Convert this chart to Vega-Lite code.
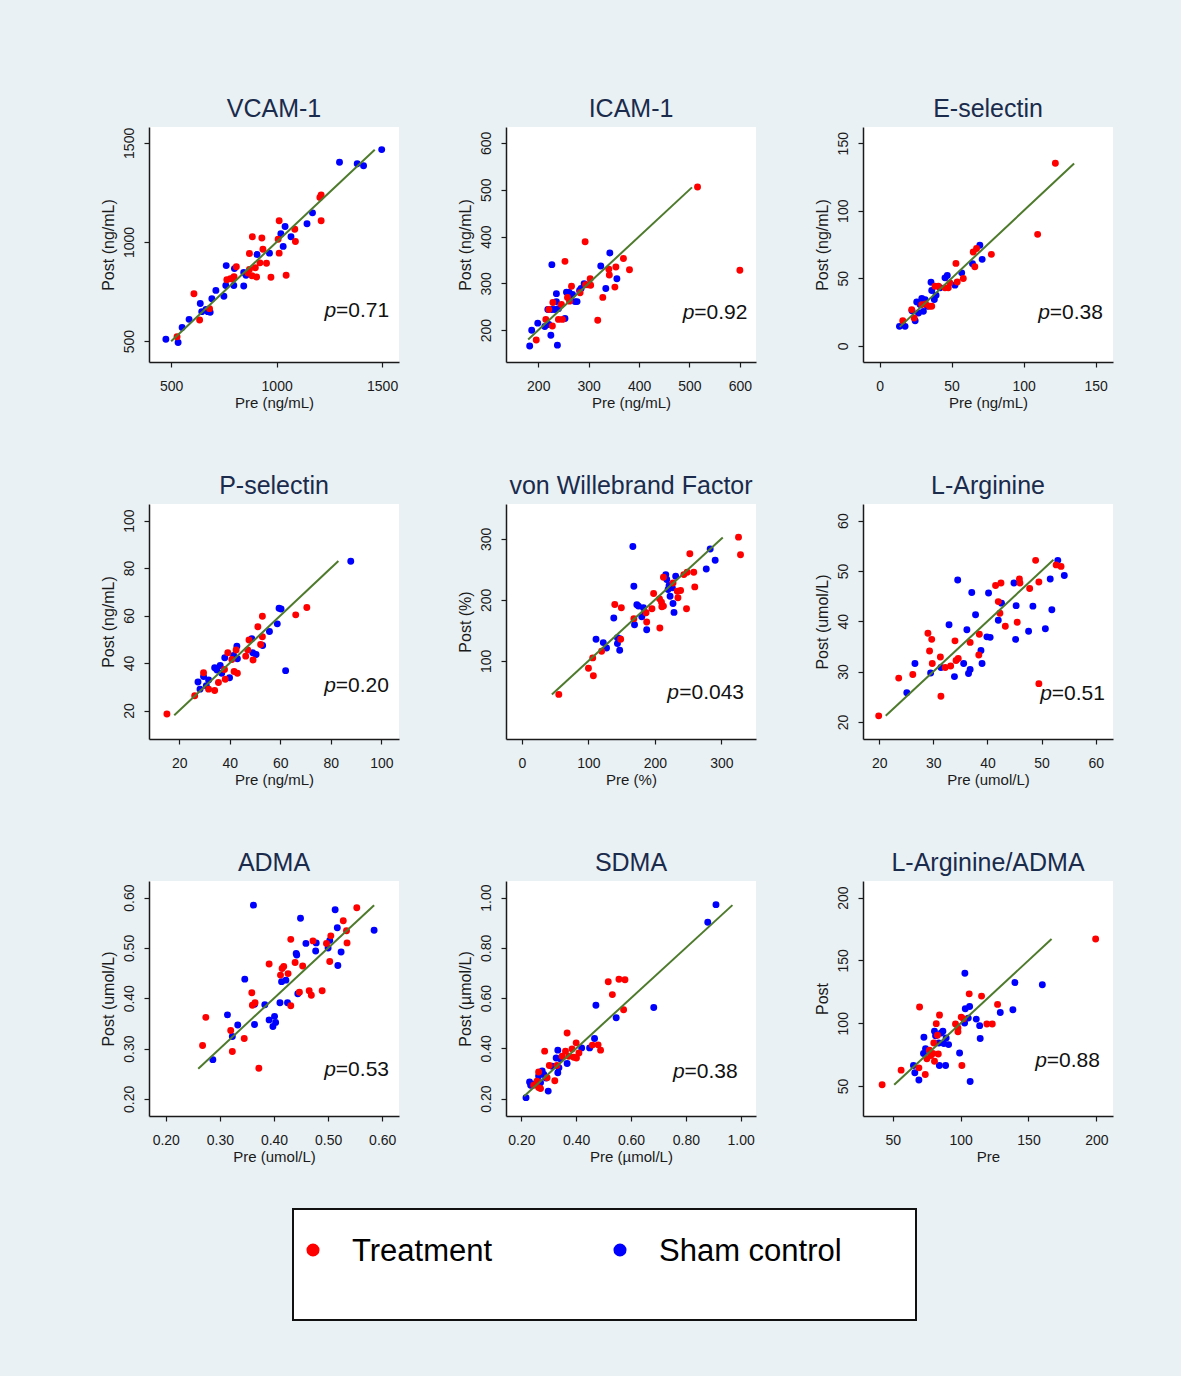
{
"$schema":"https://vega.github.io/schema/vega-lite/v6.json",
"background":"#e9f1f4",
"padding":{"left":100,"top":97,"right":68,"bottom":55},
"datasets":{
"vcam":[
{"g":"S","pre":475,"post":510},{"g":"S","pre":533,"post":493},{"g":"S","pre":552,"post":569},{"g":"S","pre":585,"post":610},{"g":"S","pre":638,"post":690},{"g":"S","pre":645,"post":649},{"g":"S","pre":674,"post":649},{"g":"S","pre":685,"post":646},{"g":"S","pre":693,"post":714},{"g":"S","pre":712,"post":756},{"g":"S","pre":750,"post":727},{"g":"S","pre":759,"post":781},{"g":"S","pre":761,"post":881},{"g":"S","pre":800,"post":866},{"g":"S","pre":797,"post":781},{"g":"S","pre":844,"post":778},{"g":"S","pre":844,"post":846},{"g":"S","pre":855,"post":832},{"g":"S","pre":907,"post":937},{"g":"S","pre":966,"post":944},{"g":"S","pre":1020,"post":1042},{"g":"S","pre":1040,"post":1078},{"g":"S","pre":1031,"post":978},{"g":"S","pre":1068,"post":1027},{"g":"S","pre":1144,"post":1092},{"g":"S","pre":1170,"post":1147},{"g":"S","pre":1298,"post":1402},{"g":"S","pre":1382,"post":1395},{"g":"S","pre":1412,"post":1385},{"g":"S","pre":1498,"post":1466},{"g":"S","pre":665,"post":660},
{"g":"T","pre":528,"post":522},{"g":"T","pre":608,"post":739},{"g":"T","pre":635,"post":607},{"g":"T","pre":682,"post":664},{"g":"T","pre":764,"post":810},{"g":"T","pre":781,"post":815},{"g":"T","pre":809,"post":875},{"g":"T","pre":798,"post":825},{"g":"T","pre":871,"post":942},{"g":"T","pre":885,"post":1027},{"g":"T","pre":930,"post":1020},{"g":"T","pre":935,"post":964},{"g":"T","pre":864,"post":844},{"g":"T","pre":883,"post":830},{"g":"T","pre":905,"post":824},{"g":"T","pre":899,"post":870},{"g":"T","pre":921,"post":895},{"g":"T","pre":952,"post":893},{"g":"T","pre":973,"post":822},{"g":"T","pre":1007,"post":1014},{"g":"T","pre":1012,"post":944},{"g":"T","pre":1012,"post":1107},{"g":"T","pre":1045,"post":832},{"g":"T","pre":1086,"post":1064},{"g":"T","pre":1089,"post":1003},{"g":"T","pre":1205,"post":1225},{"g":"T","pre":1211,"post":1237},{"g":"T","pre":1211,"post":1107},{"g":"T","pre":871,"post":861},{"g":"T","pre":790,"post":815}
],
"icam":[
{"g":"S","pre":183,"post":166},{"g":"S","pre":187,"post":200},{"g":"S","pre":199,"post":215},{"g":"S","pre":225,"post":189},{"g":"S","pre":227,"post":340},{"g":"S","pre":227,"post":244},{"g":"S","pre":233,"post":244},{"g":"S","pre":236,"post":278},{"g":"S","pre":236,"post":261},{"g":"S","pre":238,"post":168},{"g":"S","pre":253,"post":225},{"g":"S","pre":256,"post":281},{"g":"S","pre":261,"post":281},{"g":"S","pre":264,"post":271},{"g":"S","pre":273,"post":261},{"g":"S","pre":277,"post":261},{"g":"S","pre":282,"post":285},{"g":"S","pre":285,"post":289},{"g":"S","pre":291,"post":299},{"g":"S","pre":324,"post":337},{"g":"S","pre":334,"post":289},{"g":"S","pre":342,"post":365},{"g":"S","pre":356,"post":310},{"g":"S","pre":219,"post":244},{"g":"S","pre":221,"post":212},{"g":"S","pre":213,"post":208},{"g":"S","pre":240,"post":246},{"g":"S","pre":268,"post":276},
{"g":"T","pre":196,"post":179},{"g":"T","pre":215,"post":223},{"g":"T","pre":221,"post":244},{"g":"T","pre":228,"post":209},{"g":"T","pre":229,"post":259},{"g":"T","pre":240,"post":223},{"g":"T","pre":246,"post":255},{"g":"T","pre":248,"post":223},{"g":"T","pre":253,"post":347},{"g":"T","pre":262,"post":262},{"g":"T","pre":266,"post":294},{"g":"T","pre":293,"post":389},{"g":"T","pre":299,"post":297},{"g":"T","pre":303,"post":310},{"g":"T","pre":294,"post":297},{"g":"T","pre":304,"post":296},{"g":"T","pre":318,"post":221},{"g":"T","pre":328,"post":270},{"g":"T","pre":340,"post":330},{"g":"T","pre":341,"post":318},{"g":"T","pre":352,"post":292},{"g":"T","pre":354,"post":335},{"g":"T","pre":369,"post":353},{"g":"T","pre":381,"post":329},{"g":"T","pre":516,"post":506},{"g":"T","pre":600,"post":328},{"g":"T","pre":258,"post":270},{"g":"T","pre":283,"post":280}
],
"esel":[
{"g":"S","pre":13.8,"post":14.4},{"g":"S","pre":17.7,"post":14.4},{"g":"S","pre":24.7,"post":18.6},{"g":"S","pre":25.8,"post":32.5},{"g":"S","pre":27,"post":24.3},{"g":"S","pre":29.3,"post":35},{"g":"S","pre":30.4,"post":25.5},{"g":"S","pre":33.2,"post":29.3},{"g":"S","pre":36.2,"post":40.9},{"g":"S","pre":35.7,"post":47.1},{"g":"S","pre":38,"post":34.2},{"g":"S","pre":39.2,"post":37.4},{"g":"S","pre":45.4,"post":50.3},{"g":"S","pre":47,"post":52},{"g":"S","pre":52.3,"post":44.9},{"g":"S","pre":57,"post":54},{"g":"S","pre":64.5,"post":60.7},{"g":"S","pre":69.6,"post":74.4},{"g":"S","pre":71.2,"post":64},{"g":"S","pre":28.1,"post":30.5},{"g":"S","pre":31.6,"post":34.2},{"g":"S","pre":22.5,"post":26},{"g":"S","pre":42,"post":43},
{"g":"T","pre":16.1,"post":18.6},{"g":"T","pre":22.3,"post":26.8},{"g":"T","pre":24,"post":20.6},{"g":"T","pre":29.3,"post":30.5},{"g":"T","pre":34.6,"post":29.3},{"g":"T","pre":36.2,"post":29.3},{"g":"T","pre":38.5,"post":44.1},{"g":"T","pre":40.8,"post":44.1},{"g":"T","pre":45.4,"post":42.9},{"g":"T","pre":48.8,"post":46.6},{"g":"T","pre":53,"post":61},{"g":"T","pre":53.9,"post":47.3},{"g":"T","pre":58.1,"post":49.8},{"g":"T","pre":65,"post":69.4},{"g":"T","pre":66.1,"post":58.5},{"g":"T","pre":67.3,"post":72.1},{"g":"T","pre":77.6,"post":67.7},{"g":"T","pre":109.7,"post":82.5},{"g":"T","pre":122,"post":135.1},{"g":"T","pre":47.7,"post":42.9},{"g":"T","pre":32,"post":31}
],
"psel":[
{"g":"S","pre":27.4,"post":32},{"g":"S","pre":28.2,"post":29},{"g":"S","pre":29.6,"post":34.3},{"g":"S","pre":30.7,"post":30.4},{"g":"S","pre":31.6,"post":32.9},{"g":"S","pre":34,"post":38},{"g":"S","pre":34.9,"post":37.1},{"g":"S","pre":36.2,"post":39},{"g":"S","pre":38,"post":42.2},{"g":"S","pre":36.8,"post":35.7},{"g":"S","pre":39.9,"post":33.8},{"g":"S","pre":41.5,"post":43.2},{"g":"S","pre":42.8,"post":47.1},{"g":"S","pre":43,"post":41.8},{"g":"S","pre":48.7,"post":50.2},{"g":"S","pre":49.1,"post":44.3},{"g":"S","pre":50.4,"post":43.6},{"g":"S","pre":53,"post":47.4},{"g":"S","pre":55.7,"post":53.3},{"g":"S","pre":58.8,"post":56.5},{"g":"S","pre":59.5,"post":63.1},{"g":"S","pre":60.3,"post":62.8},{"g":"S","pre":62.1,"post":36.8},{"g":"S","pre":87.9,"post":82.9},
{"g":"T","pre":15.1,"post":18.5},{"g":"T","pre":26.1,"post":26.2},{"g":"T","pre":29.6,"post":35.9},{"g":"T","pre":31.6,"post":29},{"g":"T","pre":34,"post":28.4},{"g":"T","pre":35.5,"post":31.8},{"g":"T","pre":37.9,"post":37.3},{"g":"T","pre":38.2,"post":33.2},{"g":"T","pre":39.2,"post":44.3},{"g":"T","pre":41.7,"post":36.4},{"g":"T","pre":43,"post":35.7},{"g":"T","pre":42.5,"post":45.5},{"g":"T","pre":46.3,"post":42.9},{"g":"T","pre":47.1,"post":45.5},{"g":"T","pre":47.6,"post":49.7},{"g":"T","pre":49.2,"post":41.3},{"g":"T","pre":51.1,"post":55.3},{"g":"T","pre":52.9,"post":51.1},{"g":"T","pre":52.9,"post":59.7},{"g":"T","pre":52.2,"post":47.8},{"g":"T","pre":66.1,"post":60.3},{"g":"T","pre":70.5,"post":63.4},{"g":"T","pre":40.8,"post":41.5}
],
"vwf":[
{"g":"S","pre":111.4,"post":135.3},{"g":"S","pre":122.3,"post":129.9},{"g":"S","pre":127.2,"post":121.2},{"g":"S","pre":138.1,"post":170.1},{"g":"S","pre":143.6,"post":138},{"g":"S","pre":143.6,"post":128.3},{"g":"S","pre":147,"post":136.4},{"g":"S","pre":147,"post":117.4},{"g":"S","pre":166.8,"post":287.5},{"g":"S","pre":168.3,"post":222.3},{"g":"S","pre":169.3,"post":159.2},{"g":"S","pre":172.8,"post":191.9},{"g":"S","pre":175.2,"post":189.7},{"g":"S","pre":180.2,"post":172.3},{"g":"S","pre":182.7,"post":187},{"g":"S","pre":185.6,"post":178.8},{"g":"S","pre":187.6,"post":151.1},{"g":"S","pre":216.3,"post":241.3},{"g":"S","pre":217.8,"post":233.2},{"g":"S","pre":219.8,"post":216.9},{"g":"S","pre":221.3,"post":223.4},{"g":"S","pre":222.8,"post":206},{"g":"S","pre":226.2,"post":219.6},{"g":"S","pre":227.2,"post":194},{"g":"S","pre":228.7,"post":179.4},{"g":"S","pre":231.2,"post":238.6},{"g":"S","pre":277.2,"post":250.5},{"g":"S","pre":283.1,"post":283.2},{"g":"S","pre":290.6,"post":264.7},
{"g":"T","pre":55.4,"post":45.1},{"g":"T","pre":100,"post":88},{"g":"T","pre":106.4,"post":104.9},{"g":"T","pre":107.4,"post":75.5},{"g":"T","pre":119.8,"post":115.8},{"g":"T","pre":139.6,"post":192.4},{"g":"T","pre":149.5,"post":187},{"g":"T","pre":148.5,"post":135.3},{"g":"T","pre":168.3,"post":169},{"g":"T","pre":187.6,"post":163.6},{"g":"T","pre":186.6,"post":178.8},{"g":"T","pre":195.5,"post":185.3},{"g":"T","pre":198,"post":210.3},{"g":"T","pre":206.9,"post":201.6},{"g":"T","pre":207.4,"post":153.8},{"g":"T","pre":209.9,"post":196.2},{"g":"T","pre":210.4,"post":188.6},{"g":"T","pre":212.8,"post":189.7},{"g":"T","pre":212.8,"post":237},{"g":"T","pre":227.2,"post":227.7},{"g":"T","pre":233.6,"post":214.1},{"g":"T","pre":234.6,"post":203.3},{"g":"T","pre":238.6,"post":215.2},{"g":"T","pre":243.5,"post":241.3},{"g":"T","pre":247.5,"post":185.3},{"g":"T","pre":252.5,"post":275.6},{"g":"T","pre":258.4,"post":245.1},{"g":"T","pre":259.9,"post":221.2},{"g":"T","pre":325.7,"post":302.7},{"g":"T","pre":328.7,"post":273.9},{"g":"T","pre":248.5,"post":245.1}
],
"larg":[
{"g":"S","pre":25.1,"post":25.8},{"g":"S","pre":26.6,"post":31.6},{"g":"S","pre":29.5,"post":29.7},{"g":"S","pre":31.4,"post":30.8},{"g":"S","pre":32.9,"post":39.3},{"g":"S","pre":33.9,"post":29},{"g":"S","pre":34.5,"post":48.2},{"g":"S","pre":35.6,"post":31.6},{"g":"S","pre":36.2,"post":38.3},{"g":"S","pre":36.5,"post":29.6},{"g":"S","pre":36.8,"post":30.4},{"g":"S","pre":37.1,"post":45.7},{"g":"S","pre":37.8,"post":41.3},{"g":"S","pre":38.8,"post":34.2},{"g":"S","pre":39,"post":31.6},{"g":"S","pre":39.9,"post":36.9},{"g":"S","pre":40.5,"post":36.8},{"g":"S","pre":40.2,"post":45.6},{"g":"S","pre":42,"post":40.2},{"g":"S","pre":42.6,"post":43.6},{"g":"S","pre":44.9,"post":47.6},{"g":"S","pre":45.2,"post":36.4},{"g":"S","pre":45.3,"post":43.1},{"g":"S","pre":47.6,"post":38},{"g":"S","pre":48.4,"post":43},{"g":"S","pre":50.7,"post":38.5},{"g":"S","pre":51.6,"post":48.4},{"g":"S","pre":51.9,"post":42.3},{"g":"S","pre":53,"post":52.1},{"g":"S","pre":54.2,"post":49.1},
{"g":"T","pre":19.9,"post":21.2},{"g":"T","pre":23.6,"post":28.7},{"g":"T","pre":26.2,"post":29.4},{"g":"T","pre":29,"post":37.6},{"g":"T","pre":29.3,"post":34.1},{"g":"T","pre":29.7,"post":36.4},{"g":"T","pre":29.8,"post":31.6},{"g":"T","pre":31.3,"post":32.9},{"g":"T","pre":31.4,"post":25.1},{"g":"T","pre":32.2,"post":30.8},{"g":"T","pre":33.2,"post":31.1},{"g":"T","pre":34,"post":36.1},{"g":"T","pre":34.2,"post":32.2},{"g":"T","pre":34.6,"post":32.6},{"g":"T","pre":36.8,"post":35.8},{"g":"T","pre":38.4,"post":33.3},{"g":"T","pre":38.5,"post":37.4},{"g":"T","pre":41.5,"post":47.1},{"g":"T","pre":42,"post":43.9},{"g":"T","pre":42.3,"post":41.6},{"g":"T","pre":42.5,"post":47.6},{"g":"T","pre":43.3,"post":39},{"g":"T","pre":45.5,"post":39.8},{"g":"T","pre":45.9,"post":48.4},{"g":"T","pre":46,"post":47.6},{"g":"T","pre":47.8,"post":46.5},{"g":"T","pre":48.9,"post":52.1},{"g":"T","pre":49.5,"post":47.8},{"g":"T","pre":49.5,"post":27.6},{"g":"T","pre":52.7,"post":51.2},{"g":"T","pre":53.6,"post":50.9}
],
"adma":[
{"g":"S","pre":0.287,"post":0.278},{"g":"S","pre":0.314,"post":0.367},{"g":"S","pre":0.323,"post":0.324},{"g":"S","pre":0.333,"post":0.347},{"g":"S","pre":0.346,"post":0.438},{"g":"S","pre":0.362,"post":0.585},{"g":"S","pre":0.364,"post":0.388},{"g":"S","pre":0.364,"post":0.348},{"g":"S","pre":0.383,"post":0.387},{"g":"S","pre":0.391,"post":0.357},{"g":"S","pre":0.398,"post":0.344},{"g":"S","pre":0.401,"post":0.364},{"g":"S","pre":0.403,"post":0.352},{"g":"S","pre":0.411,"post":0.391},{"g":"S","pre":0.414,"post":0.433},{"g":"S","pre":0.422,"post":0.436},{"g":"S","pre":0.425,"post":0.391},{"g":"S","pre":0.441,"post":0.489},{"g":"S","pre":0.442,"post":0.486},{"g":"S","pre":0.444,"post":0.409},{"g":"S","pre":0.449,"post":0.559},{"g":"S","pre":0.459,"post":0.509},{"g":"S","pre":0.477,"post":0.494},{"g":"S","pre":0.478,"post":0.51},{"g":"S","pre":0.5,"post":0.5},{"g":"S","pre":0.503,"post":0.515},{"g":"S","pre":0.517,"post":0.54},{"g":"S","pre":0.513,"post":0.576},{"g":"S","pre":0.518,"post":0.465},{"g":"S","pre":0.524,"post":0.492},{"g":"S","pre":0.585,"post":0.535},
{"g":"T","pre":0.268,"post":0.306},{"g":"T","pre":0.274,"post":0.362},{"g":"T","pre":0.32,"post":0.336},{"g":"T","pre":0.323,"post":0.294},{"g":"T","pre":0.345,"post":0.32},{"g":"T","pre":0.359,"post":0.411},{"g":"T","pre":0.36,"post":0.386},{"g":"T","pre":0.365,"post":0.391},{"g":"T","pre":0.372,"post":0.261},{"g":"T","pre":0.391,"post":0.468},{"g":"T","pre":0.412,"post":0.446},{"g":"T","pre":0.415,"post":0.459},{"g":"T","pre":0.418,"post":0.463},{"g":"T","pre":0.426,"post":0.449},{"g":"T","pre":0.431,"post":0.385},{"g":"T","pre":0.431,"post":0.517},{"g":"T","pre":0.439,"post":0.471},{"g":"T","pre":0.447,"post":0.412},{"g":"T","pre":0.453,"post":0.464},{"g":"T","pre":0.465,"post":0.415},{"g":"T","pre":0.469,"post":0.406},{"g":"T","pre":0.472,"post":0.514},{"g":"T","pre":0.489,"post":0.415},{"g":"T","pre":0.497,"post":0.509},{"g":"T","pre":0.503,"post":0.473},{"g":"T","pre":0.505,"post":0.524},{"g":"T","pre":0.528,"post":0.554},{"g":"T","pre":0.534,"post":0.534},{"g":"T","pre":0.535,"post":0.51},{"g":"T","pre":0.553,"post":0.58}
],
"sdma":[
{"g":"S","pre":0.217,"post":0.204},{"g":"S","pre":0.23,"post":0.266},{"g":"S","pre":0.234,"post":0.253},{"g":"S","pre":0.249,"post":0.258},{"g":"S","pre":0.27,"post":0.263},{"g":"S","pre":0.276,"post":0.31},{"g":"S","pre":0.282,"post":0.296},{"g":"S","pre":0.29,"post":0.282},{"g":"S","pre":0.298,"post":0.23},{"g":"S","pre":0.312,"post":0.329},{"g":"S","pre":0.327,"post":0.362},{"g":"S","pre":0.333,"post":0.393},{"g":"S","pre":0.333,"post":0.303},{"g":"S","pre":0.337,"post":0.323},{"g":"S","pre":0.343,"post":0.358},{"g":"S","pre":0.367,"post":0.34},{"g":"S","pre":0.42,"post":0.402},{"g":"S","pre":0.449,"post":0.402},{"g":"S","pre":0.467,"post":0.439},{"g":"S","pre":0.472,"post":0.572},{"g":"S","pre":0.546,"post":0.522},{"g":"S","pre":0.683,"post":0.563},{"g":"S","pre":0.88,"post":0.902},{"g":"S","pre":0.91,"post":0.972},{"g":"S","pre":0.263,"post":0.29},
{"g":"T","pre":0.245,"post":0.253},{"g":"T","pre":0.257,"post":0.269},{"g":"T","pre":0.263,"post":0.306},{"g":"T","pre":0.27,"post":0.24},{"g":"T","pre":0.285,"post":0.389},{"g":"T","pre":0.294,"post":0.283},{"g":"T","pre":0.302,"post":0.332},{"g":"T","pre":0.322,"post":0.271},{"g":"T","pre":0.33,"post":0.332},{"g":"T","pre":0.349,"post":0.369},{"g":"T","pre":0.367,"post":0.461},{"g":"T","pre":0.373,"post":0.369},{"g":"T","pre":0.385,"post":0.398},{"g":"T","pre":0.391,"post":0.365},{"g":"T","pre":0.4,"post":0.422},{"g":"T","pre":0.401,"post":0.362},{"g":"T","pre":0.41,"post":0.382},{"g":"T","pre":0.459,"post":0.413},{"g":"T","pre":0.48,"post":0.414},{"g":"T","pre":0.489,"post":0.393},{"g":"T","pre":0.517,"post":0.665},{"g":"T","pre":0.532,"post":0.614},{"g":"T","pre":0.556,"post":0.675},{"g":"T","pre":0.578,"post":0.673},{"g":"T","pre":0.573,"post":0.554},{"g":"T","pre":0.263,"post":0.244},{"g":"T","pre":0.361,"post":0.389}
],
"ratio":[
{"g":"S","pre":65.2,"post":66.4},{"g":"S","pre":66.2,"post":60.6},{"g":"S","pre":69.2,"post":54.8},{"g":"S","pre":72.9,"post":88.8},{"g":"S","pre":72.6,"post":75.9},{"g":"S","pre":74.1,"post":79.8},{"g":"S","pre":80.7,"post":93.6},{"g":"S","pre":81.5,"post":90.1},{"g":"S","pre":83.9,"post":84.3},{"g":"S","pre":84.3,"post":66.4},{"g":"S","pre":85.7,"post":92.3},{"g":"S","pre":86.9,"post":93.6},{"g":"S","pre":87.6,"post":83.8},{"g":"S","pre":88.9,"post":66.4},{"g":"S","pre":91.1,"post":83},{"g":"S","pre":89.3,"post":88.3},{"g":"S","pre":99.2,"post":76.4},{"g":"S","pre":103.1,"post":139.8},{"g":"S","pre":102.9,"post":100.2},{"g":"S","pre":103.4,"post":111.5},{"g":"S","pre":105.6,"post":104.1},{"g":"S","pre":106.6,"post":113.4},{"g":"S","pre":107,"post":53.7},{"g":"S","pre":111.5,"post":103.3},{"g":"S","pre":114,"post":98.1},{"g":"S","pre":114.4,"post":87.8},{"g":"S","pre":129.2,"post":108.6},{"g":"S","pre":138.5,"post":110.7},{"g":"S","pre":140,"post":132.4},{"g":"S","pre":160.2,"post":130.6},
{"g":"T","pre":42.1,"post":51.1},{"g":"T","pre":56.1,"post":62.7},{"g":"T","pre":69.2,"post":64.5},{"g":"T","pre":69.7,"post":112.9},{"g":"T","pre":73.9,"post":59.2},{"g":"T","pre":75.1,"post":71.7},{"g":"T","pre":78,"post":74.3},{"g":"T","pre":79.5,"post":75.9},{"g":"T","pre":80.2,"post":84.3},{"g":"T","pre":80.7,"post":69.8},{"g":"T","pre":82,"post":99.7},{"g":"T","pre":82.9,"post":90.4},{"g":"T","pre":83.5,"post":75.6},{"g":"T","pre":84.4,"post":106.5},{"g":"T","pre":96.2,"post":99.4},{"g":"T","pre":98,"post":93.3},{"g":"T","pre":98,"post":96.2},{"g":"T","pre":100.4,"post":104.9},{"g":"T","pre":100.9,"post":66.4},{"g":"T","pre":102.1,"post":103.6},{"g":"T","pre":106.3,"post":123.4},{"g":"T","pre":115.4,"post":121.6},{"g":"T","pre":119.3,"post":99.4},{"g":"T","pre":123.3,"post":99.4},{"g":"T","pre":127.2,"post":115},{"g":"T","pre":199.5,"post":167},{"g":"T","pre":77,"post":78.5}
],
"legend":[{"g":"T","label":"Treatment"},{"g":"S","label":"Sham control"}]
},
"vconcat":[
{"columns":3,"spacing":{"row":142,"column":107},"bounds":"flush",
"concat":[
{"title":"VCAM-1","width":250,"height":235,"layer":[
{"data":{"name":"vcam"},"mark":{"type":"point","filled":true,"size":48,"opacity":1},"encoding":{
"x":{"field":"pre","type":"quantitative","scale":{"domain":[395,1580],"nice":false,"zero":false},"axis":{"values":[500,1000,1500],"format":"d","title":"Pre (ng/mL)"}},
"y":{"field":"post","type":"quantitative","scale":{"domain":[395,1580],"nice":false,"zero":false},"axis":{"values":[500,1000,1500],"format":"d","title":"Post (ng/mL)"}},
"color":{"field":"g","type":"nominal","scale":{"domain":["T","S"],"range":["#ff0000","#0000ff"]},"legend":null}}},
{"data":{"values":[{}]},"mark":{"type":"rule","color":"#4e7a2c","strokeWidth":2},"encoding":{"x":{"datum":500},"y":{"datum":500},"x2":{"datum":1465},"y2":{"datum":1465}}},
{"data":{"values":[{}]},"mark":{"type":"text","text":"=0.71","align":"right","baseline":"alphabetic","fontSize":21},"encoding":{"x":{"datum":1533},"y":{"datum":622}}},
{"data":{"values":[{}]},"mark":{"type":"text","text":"p","align":"right","baseline":"alphabetic","fontSize":21,"fontStyle":"italic","dx":-53},"encoding":{"x":{"datum":1533},"y":{"datum":622}}}
]},
{"title":"ICAM-1","width":250,"height":235,"layer":[
{"data":{"name":"icam"},"mark":{"type":"point","filled":true,"size":48,"opacity":1},"encoding":{
"x":{"field":"pre","type":"quantitative","scale":{"domain":[136,632],"nice":false,"zero":false},"axis":{"values":[200,300,400,500,600],"format":"d","title":"Pre (ng/mL)"}},
"y":{"field":"post","type":"quantitative","scale":{"domain":[132,634],"nice":false,"zero":false},"axis":{"values":[200,300,400,500,600],"format":"d","title":"Post (ng/mL)"}},
"color":{"field":"g","type":"nominal","scale":{"domain":["T","S"],"range":["#ff0000","#0000ff"]},"legend":null}}},
{"data":{"values":[{}]},"mark":{"type":"rule","color":"#4e7a2c","strokeWidth":2},"encoding":{"x":{"datum":180},"y":{"datum":180},"x2":{"datum":505},"y2":{"datum":505}}},
{"data":{"values":[{}]},"mark":{"type":"text","text":"=0.92","align":"right","baseline":"alphabetic","fontSize":21},"encoding":{"x":{"datum":615},"y":{"datum":224}}},
{"data":{"values":[{}]},"mark":{"type":"text","text":"p","align":"right","baseline":"alphabetic","fontSize":21,"fontStyle":"italic","dx":-53},"encoding":{"x":{"datum":615},"y":{"datum":224}}}
]},
{"title":"E-selectin","width":250,"height":235,"layer":[
{"data":{"name":"esel"},"mark":{"type":"point","filled":true,"size":48,"opacity":1},"encoding":{
"x":{"field":"pre","type":"quantitative","scale":{"domain":[-11.5,162],"nice":false,"zero":false},"axis":{"values":[0,50,100,150],"format":"d","title":"Pre (ng/mL)"}},
"y":{"field":"post","type":"quantitative","scale":{"domain":[-12,162],"nice":false,"zero":false},"axis":{"values":[0,50,100,150],"format":"d","title":"Post (ng/mL)"}},
"color":{"field":"g","type":"nominal","scale":{"domain":["T","S"],"range":["#ff0000","#0000ff"]},"legend":null}}},
{"data":{"values":[{}]},"mark":{"type":"rule","color":"#4e7a2c","strokeWidth":2},"encoding":{"x":{"datum":14},"y":{"datum":14},"x2":{"datum":135},"y2":{"datum":135}}},
{"data":{"values":[{}]},"mark":{"type":"text","text":"=0.38","align":"right","baseline":"alphabetic","fontSize":21},"encoding":{"x":{"datum":155},"y":{"datum":19.8}}},
{"data":{"values":[{}]},"mark":{"type":"text","text":"p","align":"right","baseline":"alphabetic","fontSize":21,"fontStyle":"italic","dx":-53},"encoding":{"x":{"datum":155},"y":{"datum":19.8}}}
]},
{"title":"P-selectin","width":250,"height":235,"layer":[
{"data":{"name":"psel"},"mark":{"type":"point","filled":true,"size":48,"opacity":1},"encoding":{
"x":{"field":"pre","type":"quantitative","scale":{"domain":[8,107],"nice":false,"zero":false},"axis":{"values":[20,40,60,80,100],"format":"d","title":"Pre (ng/mL)"}},
"y":{"field":"post","type":"quantitative","scale":{"domain":[8,107],"nice":false,"zero":false},"axis":{"values":[20,40,60,80,100],"format":"d","title":"Post (ng/mL)"}},
"color":{"field":"g","type":"nominal","scale":{"domain":["T","S"],"range":["#ff0000","#0000ff"]},"legend":null}}},
{"data":{"values":[{}]},"mark":{"type":"rule","color":"#4e7a2c","strokeWidth":2},"encoding":{"x":{"datum":18},"y":{"datum":18},"x2":{"datum":83},"y2":{"datum":83}}},
{"data":{"values":[{}]},"mark":{"type":"text","text":"=0.20","align":"right","baseline":"alphabetic","fontSize":21},"encoding":{"x":{"datum":103},"y":{"datum":27.8}}},
{"data":{"values":[{}]},"mark":{"type":"text","text":"p","align":"right","baseline":"alphabetic","fontSize":21,"fontStyle":"italic","dx":-53},"encoding":{"x":{"datum":103},"y":{"datum":27.8}}}
]},
{"title":"von Willebrand Factor","width":250,"height":235,"layer":[
{"data":{"name":"vwf"},"mark":{"type":"point","filled":true,"size":48,"opacity":1},"encoding":{
"x":{"field":"pre","type":"quantitative","scale":{"domain":[-24,352],"nice":false,"zero":false},"axis":{"values":[0,100,200,300],"format":"d","title":"Pre (%)"}},
"y":{"field":"post","type":"quantitative","scale":{"domain":[-28,357],"nice":false,"zero":false},"axis":{"values":[100,200,300],"format":"d","title":"Post (%)"}},
"color":{"field":"g","type":"nominal","scale":{"domain":["T","S"],"range":["#ff0000","#0000ff"]},"legend":null}}},
{"data":{"values":[{}]},"mark":{"type":"rule","color":"#4e7a2c","strokeWidth":2},"encoding":{"x":{"datum":45},"y":{"datum":45},"x2":{"datum":302},"y2":{"datum":302}}},
{"data":{"values":[{}]},"mark":{"type":"text","text":"=0.043","align":"right","baseline":"alphabetic","fontSize":21},"encoding":{"x":{"datum":334},"y":{"datum":37.5}}},
{"data":{"values":[{}]},"mark":{"type":"text","text":"p","align":"right","baseline":"alphabetic","fontSize":21,"fontStyle":"italic","dx":-65},"encoding":{"x":{"datum":334},"y":{"datum":37.5}}}
]},
{"title":"L-Arginine","width":250,"height":235,"layer":[
{"data":{"name":"larg"},"mark":{"type":"point","filled":true,"size":48,"opacity":1},"encoding":{
"x":{"field":"pre","type":"quantitative","scale":{"domain":[17,63.2],"nice":false,"zero":false},"axis":{"values":[20,30,40,50,60],"format":"d","title":"Pre (umol/L)"}},
"y":{"field":"post","type":"quantitative","scale":{"domain":[16.6,63.3],"nice":false,"zero":false},"axis":{"values":[20,30,40,50,60],"format":"d","title":"Post (umol/L)"}},
"color":{"field":"g","type":"nominal","scale":{"domain":["T","S"],"range":["#ff0000","#0000ff"]},"legend":null}}},
{"data":{"values":[{}]},"mark":{"type":"rule","color":"#4e7a2c","strokeWidth":2},"encoding":{"x":{"datum":21.2},"y":{"datum":21.2},"x2":{"datum":52.2},"y2":{"datum":52.2}}},
{"data":{"values":[{}]},"mark":{"type":"text","text":"=0.51","align":"right","baseline":"alphabetic","fontSize":21},"encoding":{"x":{"datum":61.7},"y":{"datum":24.35}}},
{"data":{"values":[{}]},"mark":{"type":"text","text":"p","align":"right","baseline":"alphabetic","fontSize":21,"fontStyle":"italic","dx":-53},"encoding":{"x":{"datum":61.7},"y":{"datum":24.35}}}
]},
{"title":"ADMA","width":250,"height":235,"layer":[
{"data":{"name":"adma"},"mark":{"type":"point","filled":true,"size":48,"opacity":1},"encoding":{
"x":{"field":"pre","type":"quantitative","scale":{"domain":[0.169,0.631],"nice":false,"zero":false},"axis":{"values":[0.2,0.3,0.4,0.5,0.6],"format":".2f","title":"Pre (umol/L)"}},
"y":{"field":"post","type":"quantitative","scale":{"domain":[0.166,0.633],"nice":false,"zero":false},"axis":{"values":[0.2,0.3,0.4,0.5,0.6],"format":".2f","title":"Post (umol/L)"}},
"color":{"field":"g","type":"nominal","scale":{"domain":["T","S"],"range":["#ff0000","#0000ff"]},"legend":null}}},
{"data":{"values":[{}]},"mark":{"type":"rule","color":"#4e7a2c","strokeWidth":2},"encoding":{"x":{"datum":0.26},"y":{"datum":0.26},"x2":{"datum":0.585},"y2":{"datum":0.585}}},
{"data":{"values":[{}]},"mark":{"type":"text","text":"=0.53","align":"right","baseline":"alphabetic","fontSize":21},"encoding":{"x":{"datum":0.6125},"y":{"datum":0.2455}}},
{"data":{"values":[{}]},"mark":{"type":"text","text":"p","align":"right","baseline":"alphabetic","fontSize":21,"fontStyle":"italic","dx":-53},"encoding":{"x":{"datum":0.6125},"y":{"datum":0.2455}}}
]},
{"title":"SDMA","width":250,"height":235,"layer":[
{"data":{"name":"sdma"},"mark":{"type":"point","filled":true,"size":48,"opacity":1},"encoding":{
"x":{"field":"pre","type":"quantitative","scale":{"domain":[0.144,1.056],"nice":false,"zero":false},"axis":{"values":[0.2,0.4,0.6,0.8,1.0],"format":".2f","title":"Pre (µmol/L)"}},
"y":{"field":"post","type":"quantitative","scale":{"domain":[0.131,1.066],"nice":false,"zero":false},"axis":{"values":[0.2,0.4,0.6,0.8,1.0],"format":".2f","title":"Post (µmol/L)"}},
"color":{"field":"g","type":"nominal","scale":{"domain":["T","S"],"range":["#ff0000","#0000ff"]},"legend":null}}},
{"data":{"values":[{}]},"mark":{"type":"rule","color":"#4e7a2c","strokeWidth":2},"encoding":{"x":{"datum":0.21},"y":{"datum":0.21},"x2":{"datum":0.97},"y2":{"datum":0.97}}},
{"data":{"values":[{}]},"mark":{"type":"text","text":"=0.38","align":"right","baseline":"alphabetic","fontSize":21},"encoding":{"x":{"datum":0.989},"y":{"datum":0.282}}},
{"data":{"values":[{}]},"mark":{"type":"text","text":"p","align":"right","baseline":"alphabetic","fontSize":21,"fontStyle":"italic","dx":-53},"encoding":{"x":{"datum":0.989},"y":{"datum":0.282}}}
]},
{"title":"L-Arginine/ADMA","width":250,"height":235,"layer":[
{"data":{"name":"ratio"},"mark":{"type":"point","filled":true,"size":48,"opacity":1},"encoding":{
"x":{"field":"pre","type":"quantitative","scale":{"domain":[28,212.3],"nice":false,"zero":false},"axis":{"values":[50,100,150,200],"format":"d","title":"Pre"}},
"y":{"field":"post","type":"quantitative","scale":{"domain":[26.2,213.2],"nice":false,"zero":false},"axis":{"values":[50,100,150,200],"format":"d","title":"Post"}},
"color":{"field":"g","type":"nominal","scale":{"domain":["T","S"],"range":["#ff0000","#0000ff"]},"legend":null}}},
{"data":{"values":[{}]},"mark":{"type":"rule","color":"#4e7a2c","strokeWidth":2},"encoding":{"x":{"datum":51},"y":{"datum":51},"x2":{"datum":167},"y2":{"datum":167}}},
{"data":{"values":[{}]},"mark":{"type":"text","text":"=0.88","align":"right","baseline":"alphabetic","fontSize":21},"encoding":{"x":{"datum":202.7},"y":{"datum":65.2}}},
{"data":{"values":[{}]},"mark":{"type":"text","text":"p","align":"right","baseline":"alphabetic","fontSize":21,"fontStyle":"italic","dx":-53},"encoding":{"x":{"datum":202.7},"y":{"datum":65.2}}}
]}
]},
{"spacing":10,"hconcat":[
{"width":133,"height":111,"data":{"values":[]},"mark":"point","view":{"fill":null,"stroke":null}},
{"width":623,"height":111,"data":{"name":"legend"},"view":{"fill":"white","stroke":"#111111","strokeWidth":2},
"encoding":{"x":{"field":"g","type":"nominal","sort":null,"scale":{"type":"point","domain":["T","S"],"range":[20,327],"padding":0},"axis":null}},
"layer":[
{"mark":{"type":"point","filled":true,"size":170,"opacity":1},"encoding":{"y":{"value":41},"color":{"field":"g","type":"nominal","scale":{"domain":["T","S"],"range":["#ff0000","#0000ff"]},"legend":null}}},
{"mark":{"type":"text","align":"left","baseline":"middle","dx":39,"fontSize":31,"color":"#000000"},"encoding":{"y":{"value":43},"text":{"field":"label"}}}
]}
]}
],
"spacing":44,
"config":{
"font":"Liberation Sans",
"view":{"fill":"white","stroke":null},
"axis":{"domainColor":"#1a1a1a","domainWidth":1.5,"tickColor":"#1a1a1a","tickWidth":1.2,"tickSize":5,"labelFontSize":14,"labelColor":"#1a1a1a","titleFontSize":15,"titleFontWeight":"normal","titleColor":"#1a1a1a","grid":false,"labelFlush":false,"labelOverlap":false},
"axisX":{"labelPadding":12,"titlePadding":2},
"axisY":{"labelAngle":270,"labelAlign":"center","labelBaseline":"bottom","labelPadding":8,"titlePadding":6,"titleFontSize":16},
"title":{"fontSize":25,"fontWeight":"normal","color":"#1a2b4c","anchor":"middle","frame":"group","offset":5},
"text":{"color":"#111111"}
}
}
